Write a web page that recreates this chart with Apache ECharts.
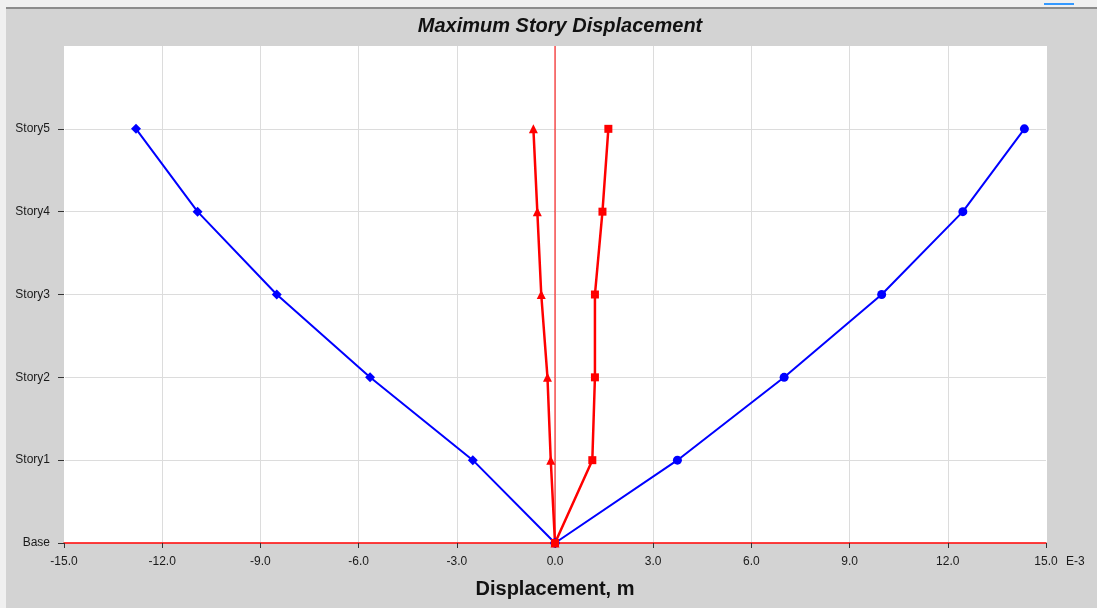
<!DOCTYPE html>
<html>
<head>
<meta charset="utf-8">
<script src="https://cdn.jsdelivr.net/npm/echarts@6/dist/echarts.min.js"></script>
<style>
  html, body { margin: 0; padding: 0; background: #f0f0f0; }
  #chart { width: 1097px; height: 608px; }
</style>
</head>
<body>
<div id="chart"></div>
<script>
// Story levels (y positions 0..5)
const storyLabels = ['Base', 'Story1', 'Story2', 'Story3', 'Story4', 'Story5'];
const storyLevels = [0, 1, 2, 3, 4, 5];
// X tick values, in units of 1E-3 m
const xTicks = [-15, -12, -9, -6, -3, 0, 3, 6, 9, 12, 15];
// Vertical reference at zero displacement, spanning the full y range
const zeroLine = [[0, 0], [0, 6]];

// Displacements per story, E-3 m
const dispBlueNeg = [0, -2.51, -5.65, -8.50, -10.92, -12.80];
const dispBluePos = [0, 3.74, 7.00, 9.98, 12.46, 14.34];
const dispRedNeg  = [0, -0.13, -0.23, -0.42, -0.54, -0.66];
const dispRedPos  = [0, 1.14, 1.22, 1.22, 1.45, 1.63];

const toPoints = vals => vals.map((v, i) => [v, i]);

const chart = echarts.init(document.getElementById('chart'), null, { renderer: 'canvas' });

const font = '"Liberation Sans", Arial, sans-serif';
const xGridColors = xTicks.map((t, i) => (i === 0 || i === xTicks.length - 1) ? '#ffffff' : '#dcdcdc');
const yGridColors = [0, 1, 2, 3, 4, 5, 6].map(i => i === 6 ? '#ffffff' : '#dcdcdc');

function lineSeries(name, vals, color, symbol, size, width) {
  return {
    name: name,
    type: 'line',
    data: toPoints(vals),
    symbol: symbol,
    symbolSize: size,
    showSymbol: true,
    lineStyle: { color: color, width: width },
    itemStyle: { color: color },
    z: 5,
    animation: false
  };
}

chart.setOption({
  animation: false,
  backgroundColor: '#d3d3d3',
  title: {
    text: 'Maximum Story Displacement',
    left: 555,
    textAlign: 'center',
    top: 11,
    textStyle: { fontFamily: font, fontSize: 20, fontWeight: 'bold', fontStyle: 'italic', color: '#111' }
  },
  grid: {
    left: 64, right: 51, top: 46, bottom: 65,
    outerBoundsMode: 'none',
    containLabel: false,
    show: true, backgroundColor: '#ffffff', borderWidth: 0
  },
  xAxis: {
    type: 'value',
    min: -15, max: 15, interval: 3,
    name: 'Displacement, m',
    nameLocation: 'middle',
    nameGap: 36,
    nameTextStyle: { fontFamily: font, fontSize: 20, fontWeight: 'bold', color: '#111' },
    axisLine: { show: true, onZero: false, lineStyle: { color: '#ff0000', width: 1.5 } },
    axisTick: { show: true, length: 5, lineStyle: { color: '#333' } },
    axisLabel: {
      margin: 13,
      fontFamily: font, fontSize: 12, color: '#1a1a1a',
      formatter: v => v.toFixed(1)
    },
    splitLine: { show: true, lineStyle: { color: xGridColors, width: 1 } }
  },
  yAxis: {
    type: 'value',
    min: 0, max: 6, interval: 1,
    axisLine: { show: false, onZero: false },
    axisTick: { show: true, length: 6, customValues: storyLevels, lineStyle: { color: '#333' } },
    axisLabel: {
      margin: 14,
      fontFamily: font, fontSize: 12, color: '#1a1a1a',
      formatter: v => storyLabels[v] || ''
    },
    splitLine: { show: true, lineStyle: { color: yGridColors, width: 1 } }
  },
  graphic: [
    { type: 'rect', left: 0, top: 0, shape: { width: 1097, height: 7 }, style: { fill: '#f0f0f0' }, silent: true },
    { type: 'rect', left: 0, top: 0, shape: { width: 6, height: 608 }, style: { fill: '#f0f0f0' }, silent: true },
    { type: 'rect', left: 6, top: 7, shape: { width: 1091, height: 2 }, style: { fill: '#8c8c8c' }, silent: true },
    { type: 'rect', left: 1044, top: 3, shape: { width: 30, height: 2 }, style: { fill: '#3399ff' }, silent: true },
    {
      type: 'text', left: 1066, top: 556, silent: true,
      style: { text: 'E-3', font: '12px "Liberation Sans", Arial, sans-serif', fill: '#1a1a1a' }
    }
  ],
  series: [
    {
      name: 'Zero',
      type: 'line',
      data: zeroLine,
      symbol: 'none',
      lineStyle: { color: '#ff0000', width: 1 },
      z: 3,
      silent: true,
      animation: false
    },
    lineSeries('BlueNeg', dispBlueNeg, '#0000ff', 'diamond', 10, 2),
    lineSeries('BluePos', dispBluePos, '#0000ff', 'circle', 9, 2),
    lineSeries('RedNeg', dispRedNeg, '#ff0000', 'triangle', 9, 2.5),
    lineSeries('RedPos', dispRedPos, '#ff0000', 'rect', 8, 2.5)
  ]
});
</script>
</body>
</html>
